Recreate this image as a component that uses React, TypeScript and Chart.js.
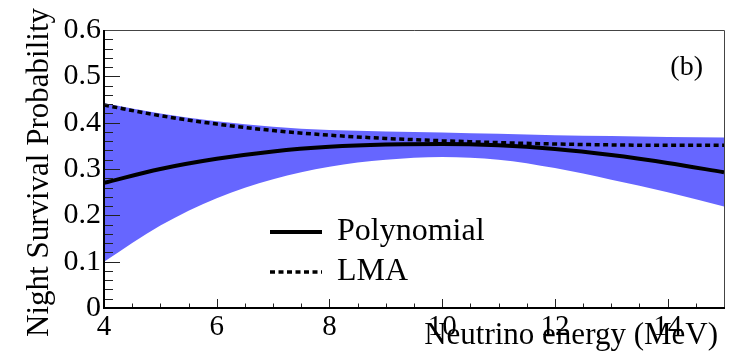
import React, { useEffect, useRef } from "react";
import { Chart, registerables } from "chart.js";

Chart.register(...registerables);

const ENERGY = [4, 5, 6, 7, 8, 9, 10, 11, 12, 13, 14, 15];
const POLYNOMIAL = [0.270, 0.300, 0.322, 0.338, 0.348, 0.353, 0.354, 0.351, 0.343, 0.330, 0.313, 0.293];
const LMA = [0.438, 0.415, 0.397, 0.383, 0.373, 0.366, 0.361, 0.357, 0.354, 0.352, 0.351, 0.351];
const BAND_UPPER = [0.442, 0.420, 0.403, 0.391, 0.384, 0.381, 0.379, 0.376, 0.373, 0.371, 0.369, 0.368];
const BAND_LOWER = [0.100, 0.178, 0.237, 0.278, 0.305, 0.320, 0.326, 0.320, 0.302, 0.277, 0.250, 0.219];

const X_TITLE = "Neutrino energy (MeV)";
const Y_TITLE = "Night Survival Probability";
const PANEL_LABEL = "(b)";
const LEGEND_LABELS = ["Polynomial", "LMA"];

const FONT = '"Liberation Serif", "Times New Roman", serif';
const BAND_COLOR = "rgb(102,102,255)";

const toPts = (ys: number[]) => ENERGY.map((x, i) => ({ x, y: ys[i] }));

const framePlugin = {
  id: "rootFrame",
  afterDatasetsDraw(chart: any) {
    const { ctx, chartArea: a, scales } = chart;
    const xs = scales.x;
    const ys = scales.y;
    ctx.save();
    ctx.strokeStyle = "#222";
    ctx.lineWidth = 1;
    for (let k = 0; k <= 30; k++) {
      const v = k * 0.02;
      const py = Math.round(ys.getPixelForValue(v)) + 0.5;
      const len = k % 5 === 0 ? 16 : 9;
      ctx.beginPath();
      ctx.moveTo(a.left, py);
      ctx.lineTo(a.left + len, py);
      ctx.stroke();
    }
    for (let k = 0; k <= 22; k++) {
      const v = 4 + k * 0.5;
      const px = Math.round(xs.getPixelForValue(v)) + 0.5;
      const len = k % 4 === 0 ? 9 : 4.5;
      ctx.beginPath();
      ctx.moveTo(px, a.bottom);
      ctx.lineTo(px, a.bottom - len);
      ctx.stroke();
    }
    ctx.strokeStyle = "#444";
    ctx.lineWidth = 1;
    ctx.beginPath();
    ctx.moveTo(a.left, a.top + 0.5);
    ctx.lineTo(a.right + 0.5, a.top + 0.5);
    ctx.lineTo(a.right + 0.5, a.bottom);
    ctx.stroke();
    ctx.strokeStyle = "#000";
    ctx.lineWidth = 2;
    ctx.beginPath();
    ctx.moveTo(a.left, a.top);
    ctx.lineTo(a.left, a.bottom);
    ctx.lineTo(a.right + 1, a.bottom);
    ctx.stroke();
    ctx.restore();
  },
  afterDraw(chart: any) {
    const { ctx, chartArea: a } = chart;
    ctx.save();
    ctx.fillStyle = "#000";
    ctx.font = `31px ${FONT}`;
    ctx.textAlign = "right";
    ctx.textBaseline = "alphabetic";
    ctx.fillText(X_TITLE, a.right - 6, a.bottom + 36);
    ctx.save();
    ctx.translate(48, a.top - 22);
    ctx.rotate(-Math.PI / 2);
    ctx.textAlign = "right";
    ctx.fillText(Y_TITLE, 0, 0);
    ctx.restore();
    ctx.font = `28px ${FONT}`;
    ctx.textAlign = "right";
    ctx.fillText(PANEL_LABEL, a.right - 21, a.top + 45);
    const ds = chart.data.datasets;
    const items = [ds[2], ds[3]];
    const lx0 = a.left + 166;
    const lx1 = a.left + 218;
    const rows = [a.top + 202, a.top + 242];
    items.forEach((d: any, i: number) => {
      ctx.strokeStyle = d.borderColor;
      ctx.lineWidth = d.borderWidth;
      ctx.setLineDash(d.borderDash || []);
      ctx.beginPath();
      ctx.moveTo(lx0, rows[i]);
      ctx.lineTo(lx1, rows[i]);
      ctx.stroke();
      ctx.setLineDash([]);
      ctx.font = `32px ${FONT}`;
      ctx.textAlign = "left";
      ctx.fillStyle = "#000";
      ctx.fillText(LEGEND_LABELS[i], a.left + 233, rows[i] + 8);
    });
    ctx.restore();
  },
};

export default function App() {
  const ref = useRef<HTMLCanvasElement | null>(null);
  useEffect(() => {
    if (!ref.current) return;
    const chart = new Chart(ref.current, {
      type: "line",
      data: {
        datasets: [
          {
            label: "band-lower",
            data: toPts(BAND_LOWER),
            borderColor: "rgba(0,0,0,0)",
            borderWidth: 0,
            pointRadius: 0,
            fill: false,
            order: 10,
            cubicInterpolationMode: "monotone",
          },
          {
            label: "band-upper",
            data: toPts(BAND_UPPER),
            borderColor: "rgba(0,0,0,0)",
            borderWidth: 0,
            backgroundColor: BAND_COLOR,
            pointRadius: 0,
            fill: "-1",
            order: 9,
            cubicInterpolationMode: "monotone",
          },
          {
            label: LEGEND_LABELS[0],
            data: toPts(POLYNOMIAL),
            borderColor: "#000",
            borderWidth: 4,
            pointRadius: 0,
            fill: false,
            order: 1,
            cubicInterpolationMode: "monotone",
          },
          {
            label: LEGEND_LABELS[1],
            data: toPts(LMA),
            borderColor: "#000",
            borderWidth: 3.5,
            borderDash: [5, 3.5],
            pointRadius: 0,
            fill: false,
            order: 0,
            cubicInterpolationMode: "monotone",
          },
        ],
      } as any,
      options: {
        animation: false,
        responsive: false,
        devicePixelRatio: 1,
        layout: { padding: { top: 30, right: 10, left: 0, bottom: 0 } },
        plugins: {
          legend: { display: false },
          tooltip: { enabled: false },
          filler: { propagate: false },
        },
        scales: {
          x: {
            type: "linear",
            min: 4,
            max: 15,
            grid: { display: false, drawTicks: false },
            border: { display: false },
            ticks: {
              stepSize: 2,
              includeBounds: false,
              padding: 2,
              color: "#000",
              maxRotation: 0,
              autoSkip: false,
              font: { family: FONT, size: 29 },
            },
            afterFit: (s: any) => {
              s.height = 45;
            },
          },
          y: {
            type: "linear",
            min: 0,
            max: 0.6,
            grid: { display: false, drawTicks: false },
            border: { display: false },
            ticks: {
              stepSize: 0.1,
              padding: 3,
              color: "#000",
              font: { family: FONT, size: 30 },
              callback: (v: any) => (Math.abs(v) < 1e-9 ? "0" : Number(v).toFixed(1)),
            },
            afterFit: (s: any) => {
              s.width = 104;
            },
          },
        },
      } as any,
      plugins: [framePlugin],
    });
    return () => chart.destroy();
  }, []);
  return (
    <div style={{ position: "fixed", left: 0, top: 0, width: 734, height: 353, background: "#fff" }}>
      <canvas ref={ref} width={734} height={353} />
    </div>
  );
}
